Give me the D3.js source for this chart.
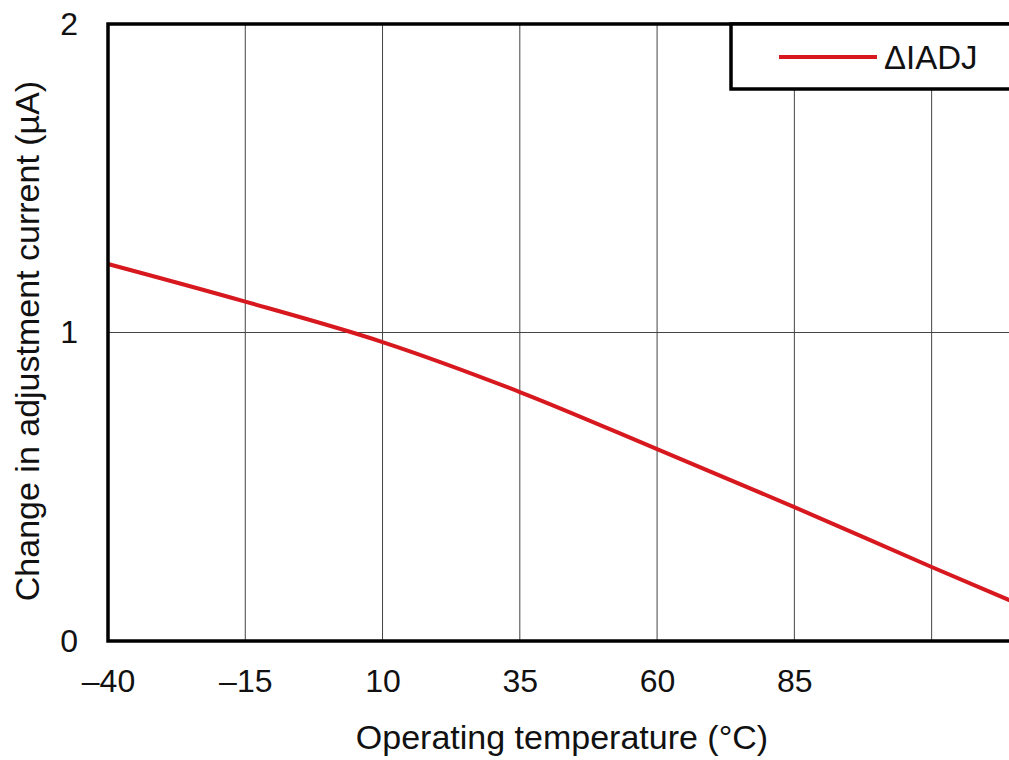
<!DOCTYPE html>
<html><head><meta charset="utf-8">
<script src="https://cdn.jsdelivr.net/npm/d3@7/dist/d3.min.js"></script>
<style>html,body{margin:0;padding:0;background:#fff;overflow:hidden}</style>
</head><body>
<svg id="c" width="1009" height="760"></svg>
<script>
const temps = [-40, -15, 10, 35, 60, 85, 110, 125];
const deltaIadj = [1.222, 1.100, 0.969, 0.807, 0.622, 0.434, 0.240, 0.126];
const xTicks = [-40, -15, 10, 35, 60, 85];
const xGrid = [-15, 10, 35, 60, 85, 110];
const yTicks = [0, 1, 2];
const seriesName = "ΔIADJ";
const xTitle = "Operating temperature (°C)";
const yTitle = "Change in adjustment current (µA)";

const svg = d3.select("#c");
const font = "'Liberation Sans', Arial, sans-serif";
const x = d3.scaleLinear().domain([-40, 125]).range([108, 1014]);
const y = d3.scaleLinear().domain([0, 2]).range([641, 24]);

// gridlines
svg.append("g").selectAll("line").data(xGrid).join("line")
  .attr("x1", d => x(d)).attr("x2", d => x(d)).attr("y1", y(2)).attr("y2", y(0))
  .attr("stroke", "#444").attr("stroke-width", 1);
svg.append("g").selectAll("line").data([1]).join("line")
  .attr("x1", x(-40)).attr("x2", x(125)).attr("y1", d => y(d)).attr("y2", d => y(d))
  .attr("stroke", "#444").attr("stroke-width", 1);

// curve
const line = d3.line().x((d, i) => x(temps[i])).y(d => y(d)).curve(d3.curveMonotoneX);
svg.append("path").datum(deltaIadj).attr("d", line)
  .attr("fill", "none").attr("stroke", "#d7191f").attr("stroke-width", 4);

// frame
svg.append("rect").attr("x", x(-40)).attr("y", y(2)).attr("width", x(125) - x(-40)).attr("height", y(0) - y(2))
  .attr("fill", "none").attr("stroke", "#000").attr("stroke-width", 3.5);

// axes labels
const xAxis = d3.axisBottom(x).tickValues(xTicks).tickSize(0).tickPadding(28)
  .tickFormat(d => d < 0 ? "\u2013" + Math.abs(d) : d);
const gx = svg.append("g").attr("transform", `translate(0,${y(0)})`).call(xAxis);
gx.select(".domain").remove();
gx.selectAll("text").attr("font-family", font).attr("font-size", 32).attr("fill", "#111");

const yAxis = d3.axisLeft(y).tickValues(yTicks).tickSize(0).tickPadding(30).tickFormat(d3.format("d"));
const gy = svg.append("g").attr("transform", `translate(${x(-40)},0)`).call(yAxis);
gy.select(".domain").remove();
gy.selectAll("text").attr("font-family", font).attr("font-size", 32).attr("fill", "#111");

svg.append("text").attr("x", 562).attr("y", 749).attr("text-anchor", "middle")
  .attr("font-family", font).attr("font-size", 34).attr("fill", "#111").text(xTitle);
svg.append("text").attr("transform", "translate(39,341) rotate(-90)").attr("text-anchor", "middle")
  .attr("font-family", font).attr("font-size", 34).attr("fill", "#111").text(yTitle);

// legend
const lg = svg.append("g");
lg.append("rect").attr("x", 731).attr("y", y(2)).attr("width", 320).attr("height", 65)
  .attr("fill", "#fff").attr("stroke", "#000").attr("stroke-width", 3.5);
lg.append("line").attr("x1", 779).attr("x2", 877).attr("y1", 57).attr("y2", 57)
  .attr("stroke", "#d7191f").attr("stroke-width", 4);
lg.append("text").attr("x", 884).attr("y", 69).attr("font-family", font).attr("font-size", 33)
  .attr("fill", "#111").text(seriesName);
</script>
</body></html>
